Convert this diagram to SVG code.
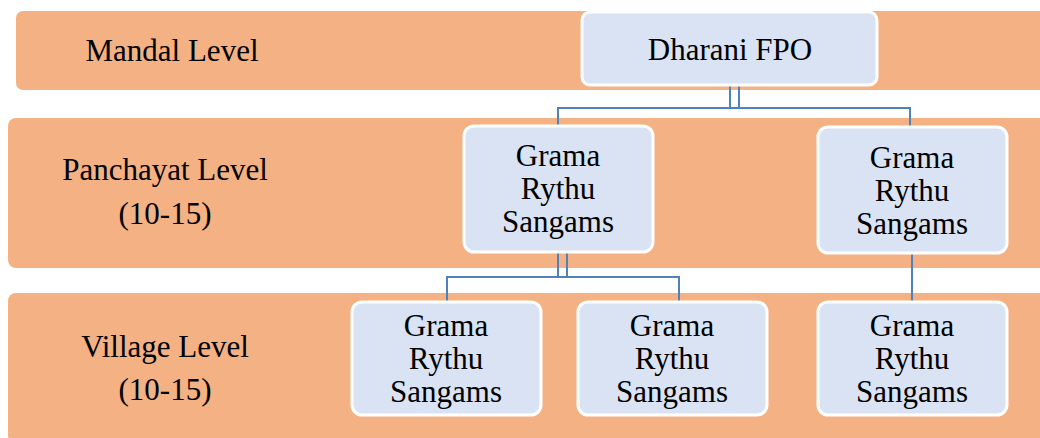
<svg xmlns="http://www.w3.org/2000/svg" width="1040" height="438" viewBox="0 0 1040 438">
<style>
.band{fill:#F4B183;}
.box{fill:#DAE3F3;stroke:#FFFFFF;stroke-width:3;}
.t{font-family:"Liberation Serif","Times New Roman",serif;font-size:31px;fill:#000;text-anchor:middle;}
.c{fill:none;stroke:#4F81BD;stroke-width:2;}
</style>
<rect width="1040" height="438" fill="#FFFFFF"/>
<g id="bands">
<rect class="band" x="16" y="11" width="1040" height="79" rx="7"/>
<rect class="band" x="8" y="118" width="1048" height="150" rx="8"/>
<rect class="band" x="8" y="293" width="1048" height="150" rx="8"/>
</g>
<g id="level-labels">
<text class="t" x="172" y="61">Mandal Level</text>
<text class="t" x="165" y="180">Panchayat Level</text>
<text class="t" x="165" y="224">(10-15)</text>
<text class="t" x="165" y="357">Village Level</text>
<text class="t" x="165" y="400">(10-15)</text>
</g>
<g id="connectors">
<polyline class="c" points="730,86 730,108"/>
<polyline class="c" points="739,86 739,108"/>
<polyline class="c" points="558,126 558,108 910,108 910,127"/>
<polyline class="c" points="558,252 558,277"/>
<polyline class="c" points="567,252 567,277"/>
<polyline class="c" points="447,302 447,277 679,277 679,302"/>
<polyline class="c" points="912,253 912,302"/>
</g>
<g id="n-dharani">
<rect class="box" x="582" y="12" width="295" height="73" rx="8"/>
<text class="t" x="730" y="60">Dharani FPO</text>
</g>
<g id="n-p1">
<rect class="box" x="464" y="126" width="189" height="126" rx="10"/>
<text class="t" x="558" y="166">Grama</text>
<text class="t" x="558" y="199">Rythu</text>
<text class="t" x="558" y="232">Sangams</text>
</g>
<g id="n-p2">
<rect class="box" x="818" y="127" width="189" height="126" rx="10"/>
<text class="t" x="912" y="168">Grama</text>
<text class="t" x="912" y="201">Rythu</text>
<text class="t" x="912" y="234">Sangams</text>
</g>
<g id="n-v1">
<rect class="box" x="352" y="302" width="189" height="113" rx="10"/>
<text class="t" x="446" y="336">Grama</text>
<text class="t" x="446" y="369">Rythu</text>
<text class="t" x="446" y="402">Sangams</text>
</g>
<g id="n-v2">
<rect class="box" x="578" y="302" width="189" height="113" rx="10"/>
<text class="t" x="672" y="336">Grama</text>
<text class="t" x="672" y="369">Rythu</text>
<text class="t" x="672" y="402">Sangams</text>
</g>
<g id="n-v3">
<rect class="box" x="818" y="302" width="189" height="113" rx="10"/>
<text class="t" x="912" y="336">Grama</text>
<text class="t" x="912" y="369">Rythu</text>
<text class="t" x="912" y="402">Sangams</text>
</g>
</svg>
